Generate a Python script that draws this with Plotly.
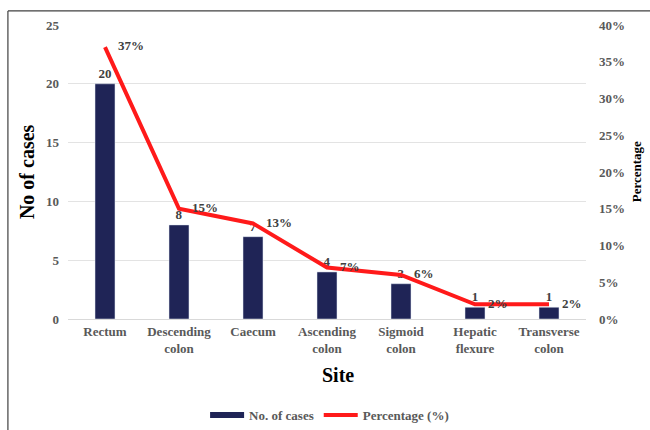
import plotly.graph_objects as go

sites = ["Rectum", "Descending<br>colon", "Caecum", "Ascending<br>colon",
         "Sigmoid<br>colon", "Hepatic<br>flexure", "Transverse<br>colon"]
cases = [20, 8, 7, 4, 3, 1, 1]
percentage = [37, 15, 13, 7, 6, 2, 2]

NAVY = "#1F2456"
RED = "#FF1A1A"
GRAY = "#595959"
FONT = "Liberation Serif"

fig = go.Figure()
fig.add_trace(go.Bar(
    x=sites, y=cases, name="No. of cases", marker_color=NAVY, width=0.27,
    text=[str(v) for v in cases], textposition="outside",
    textfont=dict(family=FONT, size=13, color="#404040", weight="bold"),
    cliponaxis=False, showlegend=False,
))
fig.add_trace(go.Scatter(
    x=sites, y=percentage, name="Percentage (%)", yaxis="y2",
    mode="lines+text", line=dict(color=RED, width=4),
    text=[f"    {v}%" for v in percentage], textposition="middle right",
    textfont=dict(family=FONT, size=13, color="#404040", weight="bold"),
    cliponaxis=False, showlegend=False,
))
# legend entries drawn as thick lines like the reference
fig.add_trace(go.Scatter(x=[None], y=[None], mode="lines", name="No. of cases",
                         line=dict(color=NAVY, width=6)))
fig.add_trace(go.Scatter(x=[None], y=[None], mode="lines", name="Percentage (%)",
                         line=dict(color=RED, width=4)))

tickf = dict(family=FONT, size=13, color=GRAY, weight="bold")

fig.update_layout(
    width=650, height=430,
    margin=dict(l=68, r=64, t=25, b=111, autoexpand=False),
    paper_bgcolor="white", plot_bgcolor="white",
    font=dict(family=FONT, color=GRAY, size=13),
    bargap=0.73,
    xaxis=dict(
        automargin=False,
        tickfont=tickf,
        showline=True, linecolor="#D9D9D9", linewidth=1, ticks="",
        showgrid=False,
    ),
    yaxis=dict(
        automargin=False,
        range=[0, 25], dtick=5, gridcolor="#E3E3E3", zeroline=False,
        tickfont=tickf, ticks="", ticklabelstandoff=8,
    ),
    yaxis2=dict(
        automargin=False,
        range=[0, 40], dtick=5, ticksuffix="%", overlaying="y", side="right",
        showgrid=False, zeroline=False,
        tickfont=tickf, ticks="", ticklabelstandoff=12,
    ),
    legend=dict(orientation="h", x=0.505, xanchor="center", y=-0.327, yanchor="middle",
                font=dict(family=FONT, size=13, color=GRAY, weight="bold"), itemwidth=34,
                traceorder="normal"),
    annotations=[
        dict(text="<b>No of cases</b>", xref="paper", yref="paper", x=-0.079, y=0.5,
             xanchor="center", yanchor="middle",
             textangle=-90, showarrow=False, font=dict(family=FONT, size=20, color="black")),
        dict(text="<b>Site</b>", xref="paper", yref="paper", x=0.522, y=-0.19,
             xanchor="center", yanchor="middle",
             showarrow=False, font=dict(family=FONT, size=20, color="black")),
        dict(text="<b>Percentage</b>", xref="paper", yref="paper", x=1.097, y=0.5,
             xanchor="center", yanchor="middle",
             textangle=-90, showarrow=False, font=dict(family=FONT, size=13, color="black")),
    ],
    shapes=[
        dict(type="line", xref="paper", yref="paper", x0=-0.116, x1=1.3, y0=1.048, y1=1.048,
             line=dict(color="#404040", width=1.2)),
        dict(type="line", xref="paper", yref="paper", x0=-0.116, x1=-0.116, y0=1.048, y1=-0.6,
             line=dict(color="#404040", width=1.2)),
    ],
)

fig.write_html("out.html", config={"displayModeBar": False},
               post_script="document.body.style.margin='0';document.body.style.overflow='hidden';")
